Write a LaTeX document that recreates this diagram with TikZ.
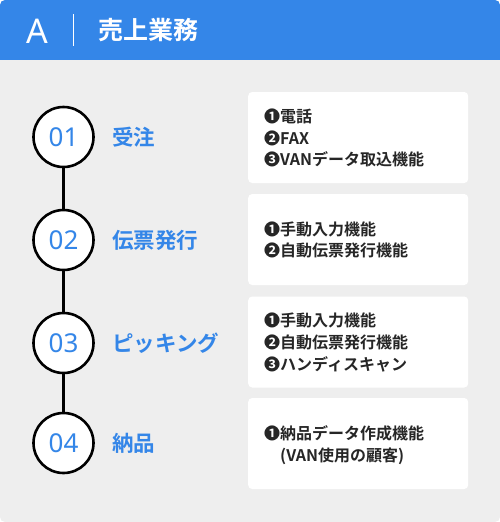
\documentclass[tikz,border=0pt]{standalone}
\usepackage{fontspec}
\setmainfont{Noto Sans}
\newfontfamily\jp{Noto Sans CJK JP}
\newfontfamily\jpb{Noto Sans CJK JP Bold}
\newfontfamily\dv{DejaVu Sans}
\definecolor{hblue}{HTML}{3486E8}
\definecolor{bggray}{HTML}{EEEEEE}
\begin{document}
\begin{tikzpicture}[x=1pt,y=-1pt,
  stepcircle/.style={circle,draw=black,line width=2.6pt,fill=white,minimum size=60pt,inner sep=0pt,
    text=hblue,font=\fontsize{26}{26}\selectfont},
  steplabel/.style={anchor=west,text=hblue,font=\jpb\fontsize{21.5}{21.5}\selectfont,inner sep=0pt},
  infobox/.style={fill=white,rounded corners=4pt,minimum width=220pt,minimum height=91pt,inner sep=0pt,anchor=west},
  infotext/.style={anchor=west,align=left,inner sep=0pt,font=\jpb\fontsize{16}{21.7}\selectfont,text=black!85}
]
\useasboundingbox (0,0) rectangle (500,522);
\fill[bggray,rounded corners=5pt] (0,0) rectangle (500,522);
\fill[hblue,rounded corners=5pt] (0,0) rectangle (500,20);
\fill[hblue] (0,10) rectangle (500,60);
\node[text=white,font=\fontsize{34}{34}\selectfont,inner sep=0pt] (logo) at (37,31) {A};
\coordinate (vt) at (73,14);
\coordinate (vb) at (73,46);
\draw[white,line width=0.8pt] (vt) -- (vb);
\node[anchor=west,text=white,font=\jpb\fontsize{25}{25}\selectfont,inner sep=0pt] (title) at (98,30) {売上業務};

\node[stepcircle] (c1) at (63.5,137) {01};
\node[stepcircle] (c2) at (63.5,240) {02};
\node[stepcircle] (c3) at (63.5,343) {03};
\node[stepcircle] (c4) at (63.5,443) {04};
\draw[line width=2.6pt] (c1) -- (c2) (c2) -- (c3) (c3) -- (c4);

\node[steplabel] (l1) at (112,137) {受注};
\node[steplabel] (l2) at (112,240) {伝票発行};
\node[steplabel] (l3) at (112,343) {ピッキング};
\node[steplabel] (l4) at (112,443) {納品};

\node[infobox] (b1) at (248,137.5) {};
\node[infobox] (b2) at (248,239.5) {};
\node[infobox] (b3) at (248,342) {};
\node[infobox] (b4) at (248,443.5) {};

\node[infotext] (t1) at (264,138) {❶電話\\❷FAX\\❸VANデータ取込機能};
\node[infotext] (t2) at (264,240) {❶手動入力機能\\❷自動伝票発行機能};
\node[infotext] (t3) at (264,342.5) {❶手動入力機能\\❷自動伝票発行機能\\❸ハンディスキャン};
\node[infotext] (t4) at (264,445.5) {❶納品データ作成機能\\\hspace*{16pt}(VAN使用の顧客)};
\end{tikzpicture}
\end{document}
